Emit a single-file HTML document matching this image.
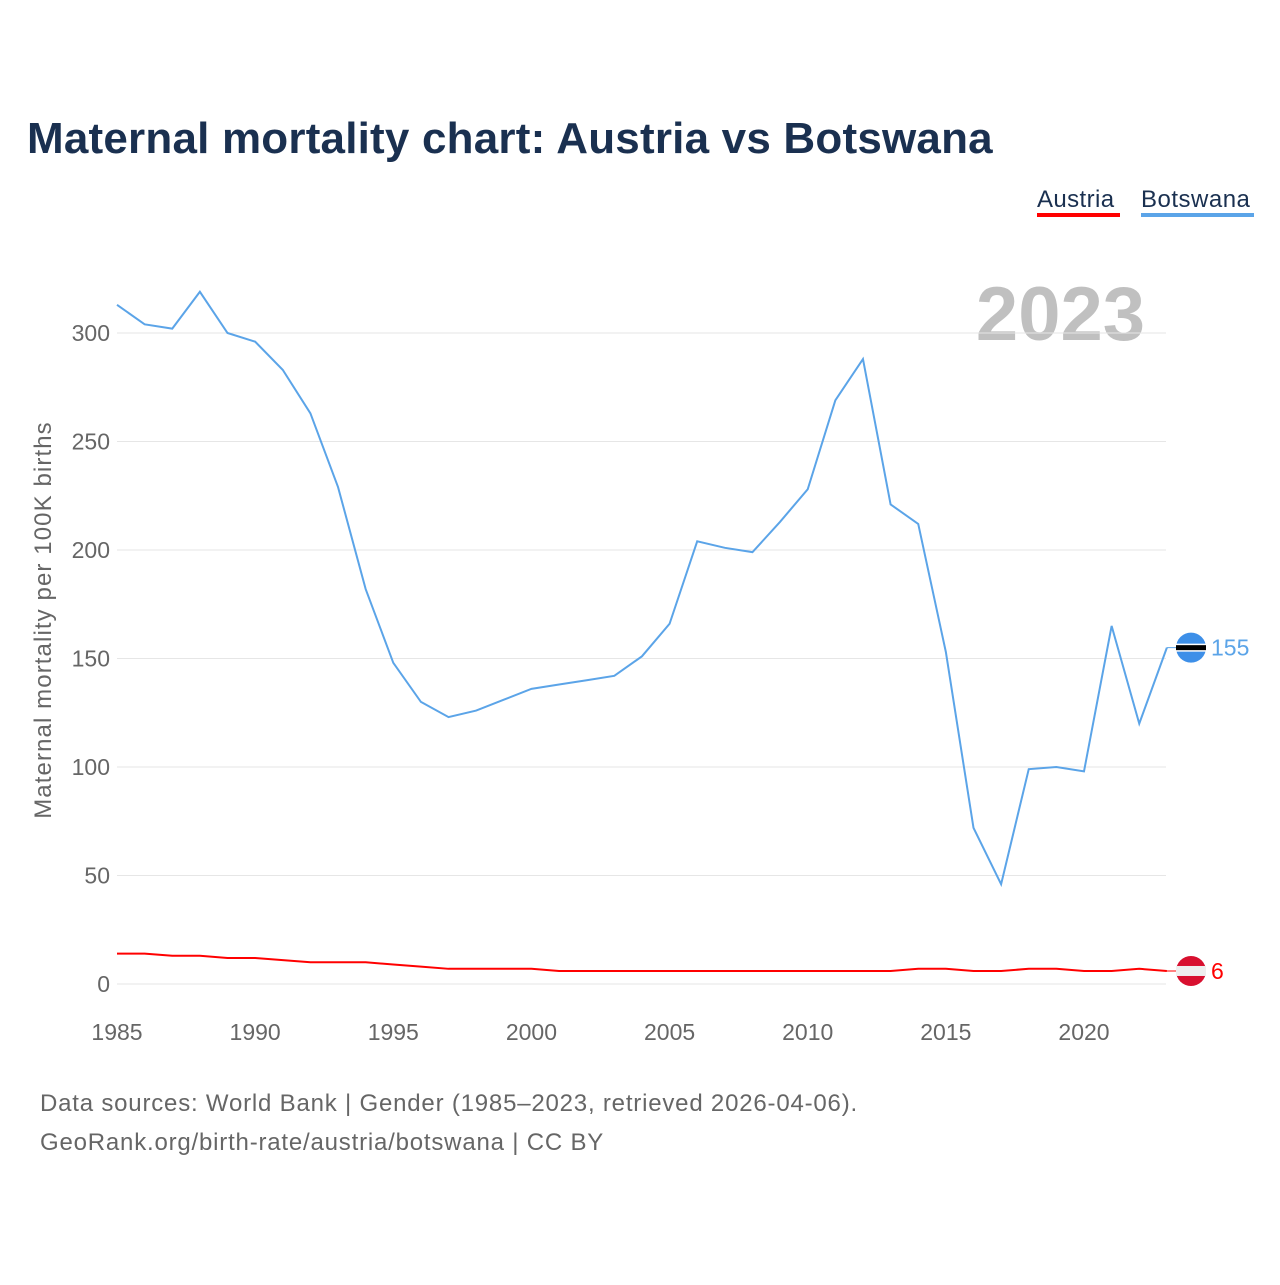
<!DOCTYPE html>
<html><head><meta charset="utf-8"><style>
body{margin:0;width:1280px;height:1280px;background:#fff;font-family:"Liberation Sans",sans-serif;}
</style></head><body>
<svg width="1280" height="1280">
<text x="27" y="153" font-size="44" font-weight="bold" fill="#1a3050" letter-spacing="0.2">Maternal mortality chart: Austria vs Botswana</text>
<g>
<text x="1037" y="207" font-size="24" fill="#1a3050" letter-spacing="0.4">Austria</text>
<rect x="1037" y="213" width="83" height="4" fill="#ff0000"/>
<text x="1141" y="207" font-size="24" fill="#1a3050" letter-spacing="0.5">Botswana</text>
<rect x="1141" y="213" width="113" height="4" fill="#5ba4e8"/>
</g>
<text x="1145" y="340" font-size="76" font-weight="bold" fill="#c0c0c0" text-anchor="end">2023</text>
<g id="grid"></g><g id="xt"></g><g id="lines"></g><g id="ends"></g>
<text transform="translate(51,620) rotate(-90)" font-size="24" fill="#666" letter-spacing="1.1" text-anchor="middle">Maternal mortality per 100K births</text>
<text x="40" y="1111" font-size="24" fill="#666" letter-spacing="0.8">Data sources: World Bank | Gender (1985–2023, retrieved 2026-04-06).</text>
<text x="40" y="1150" font-size="24" fill="#666" letter-spacing="0.8">GeoRank.org/birth-rate/austria/botswana | CC BY</text>
</svg>
<script>
const years=[];for(let y=1985;y<=2023;y++)years.push(y);
const botswana=[313,304,302,319,300,296,283,263,229,182,148,130,123,126,131,136,138,140,142,151,166,204,201,199,213,228,269,288,221,212,153,72,46,99,100,98,165,120,155];
const austria=[14,14,13,13,12,12,11,10,10,10,9,8,7,7,7,7,6,6,6,6,6,6,6,6,6,6,6,6,6,7,7,6,6,7,7,6,6,7,6];
const yTicks=[0,50,100,150,200,250,300];
const xTicks=[1985,1990,1995,2000,2005,2010,2015,2020];
const NS="http://www.w3.org/2000/svg";
const X=y=>117+(y-1985)*(1084-117)/35;
const Y=v=>984-v*(984-333)/300;
function mk(t,a,p){const e=document.createElementNS(NS,t);for(const k in a)e.setAttribute(k,a[k]);p.appendChild(e);return e;}
const g=document.getElementById('grid');
yTicks.forEach(v=>{
const l=mk('line',{x1:117,x2:1166,y1:Y(v),y2:Y(v),stroke:'#e6e6e6','stroke-width':1},g);


const t=mk('text',{x:110,y:Y(v)+8,'font-size':23,fill:'#666','text-anchor':'end'},g);t.textContent=v;


});
const xt=document.getElementById('xt');
xTicks.forEach(v=>{
const t=mk('text',{x:X(v),y:1040,'font-size':23,fill:'#666','text-anchor':'middle'},xt);t.textContent=v;


});
const L=document.getElementById('lines');
function line(d,c,n){
const p=mk('path',{d:d.map((v,i)=>(i?'L':'M')+X(years[i])+','+Y(v)).join(''),fill:'none',stroke:c,'stroke-width':2},L);


}
line(botswana,'#5ba4e8','botswana-line');
line(austria,'#ff0000','austria-line');
const E=document.getElementById('ends');
function end(v,c,n,flag){
const y=Y(v),cx=1191;
mk('line',{x1:X(2023),x2:cx,y1:y,y2:y,stroke:c,'stroke-width':1},E);
const gg=mk('g',{},E);


mk('circle',{cx:cx,cy:y,r:15,fill:flag[0]},gg);
if(flag[1]==='bw'){mk('rect',{x:cx-15,y:y-4,width:30,height:8,fill:'#fff'},gg);mk('rect',{x:cx-15,y:y-2.5,width:30,height:5,fill:'#000'},gg);}
else{mk('rect',{x:cx-15,y:y-5,width:30,height:10,fill:'#eee'},gg);}
const t=mk('text',{x:1211,y:y+8,'font-size':23,fill:c},E);t.textContent=v;


}
end(botswana[botswana.length-1],'#5ba4e8','botswana',['#3d8fe8','bw']);
end(austria[austria.length-1],'#ff0000','austria',['#d8102f','at']);
</script>
</body></html>
